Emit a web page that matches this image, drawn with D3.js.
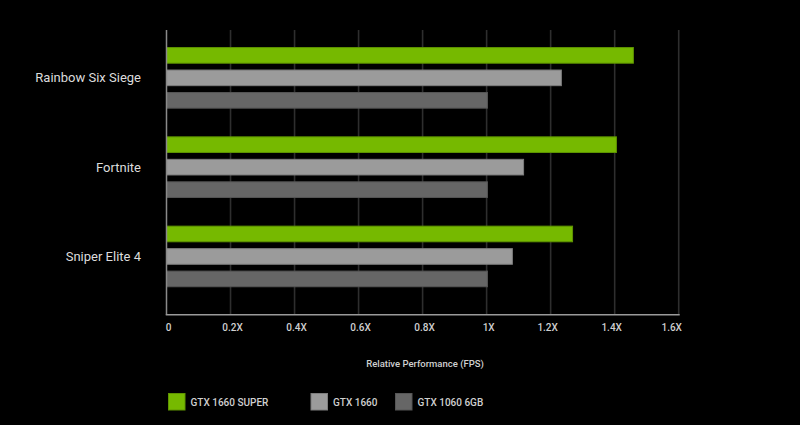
<!DOCTYPE html>
<html><head><meta charset="utf-8">
<script src="https://cdn.jsdelivr.net/npm/d3@7"></script>
<style>html,body{margin:0;padding:0;background:#000;}svg{display:block;}</style>
</head><body>
<script>
const games = ["Rainbow Six Siege", "Fortnite", "Sniper Elite 4"];
const seriesNames = ["GTX 1660 SUPER", "GTX 1660", "GTX 1060 6GB"];
const super1660 = [1.46, 1.407, 1.27];
const gtx1660 = [1.235, 1.117, 1.082];
const gtx1060 = [1.004, 1.004, 1.004];
const tickValues = [0, 0.2, 0.4, 0.6, 0.8, 1.0, 1.2, 1.4, 1.6];
const tickLabels = ["0", "0.2X", "0.4X", "0.6X", "0.8X", "1X", "1.2X", "1.4X", "1.6X"];
const fills = ["#76b900", "#9b9b9b", "#666666"];
const strokes = ["#5f9400", "#7d7d7d", "#555555"];

(function () {
const W = 800, H = 425;
const svg = d3.select("body").append("svg").attr("width", W).attr("height", H);
svg.append("rect").attr("width", W).attr("height", H).attr("fill", "#000");

const x = d3.scaleLinear().domain([0, 1.6]).range([166.5, 678.7]);
const y = d3.scaleBand().domain(games).range([33.2, 301.1]).padding(0);
const inner = d3.scaleBand().domain(seriesNames).range([-30.8, 30.8]).paddingInner(0.26).paddingOuter(0);
const plotTop = 30, plotBottom = 314.7;

svg.append("g").selectAll("line").data(tickValues.slice(1)).join("line")
  .attr("x1", d => x(d)).attr("x2", d => x(d)).attr("y1", plotTop).attr("y2", plotBottom)
  .attr("stroke", "#2e2e2e").attr("stroke-width", 1.6);

const values = [super1660, gtx1660, gtx1060];
const rows = [];
games.forEach((g, gi) => seriesNames.forEach((s, si) => rows.push({g, s, si, v: values[si][gi]})));

svg.append("g").selectAll("rect").data(rows).join("rect")
  .attr("x", x(0))
  .attr("y", d => y(d.g) + y.bandwidth() / 2 + inner(d.s) + 0.5)
  .attr("width", d => x(d.v) - x(0) - 0.5)
  .attr("height", inner.bandwidth() - 1)
  .attr("fill", d => fills[d.si])
  .attr("stroke", d => strokes[d.si]).attr("stroke-width", 1);

svg.append("line").attr("x1", x(0)).attr("x2", x(0)).attr("y1", plotTop).attr("y2", plotBottom)
  .attr("stroke", "#8a8a8a").attr("stroke-width", 1.5);
svg.append("line").attr("x1", x(0) - 0.75).attr("x2", x(1.6) + 1).attr("y1", plotBottom).attr("y2", plotBottom)
  .attr("stroke", "#9a9a9a").attr("stroke-width", 1.5);

const font = "Roboto, 'Open Sans', sans-serif";
svg.append("g").selectAll("text").data(tickValues).join("text")
  .attr("x", (d, i) => i === 0 ? x(d) + 2 : x(d) + (i === 8 ? -7 : (i >= 6 ? -3 : 2)))
  .attr("y", 331)
  .attr("text-anchor", "middle")
  .attr("fill", "#d0d0d0").attr("font-family", font).attr("font-size", 10).attr("font-weight", 500)
  .text((d, i) => tickLabels[i]);

svg.append("text").attr("x", 425).attr("y", 367).attr("text-anchor", "middle")
  .attr("fill", "#d0d0d0").attr("font-family", font).attr("font-size", 9.5).attr("font-weight", 500)
  .text("Relative Performance (FPS)");

svg.append("g").selectAll("text").data(games).join("text")
  .attr("x", 141).attr("y", d => y(d) + y.bandwidth() / 2 + 4.5)
  .attr("text-anchor", "end").attr("fill", "#dcdcdc")
  .attr("font-family", font).attr("font-size", 13).attr("font-weight", 400)
  .text(d => d);

const legendX = [168.5, 311, 395.5];
const lg = svg.append("g").selectAll("g").data(seriesNames).join("g")
  .attr("transform", (d, i) => `translate(${legendX[i]},393.5)`);
lg.append("rect").attr("width", 16.5).attr("height", 16.5)
  .attr("fill", (d, i) => fills[i]).attr("stroke", (d, i) => strokes[i]).attr("stroke-width", 1);
lg.append("text").attr("x", 22).attr("y", 12.5)
  .attr("fill", "#d0d0d0").attr("font-family", font).attr("font-size", 10).attr("font-weight", 500)
  .text(d => d);
})();
</script>
</body></html>
